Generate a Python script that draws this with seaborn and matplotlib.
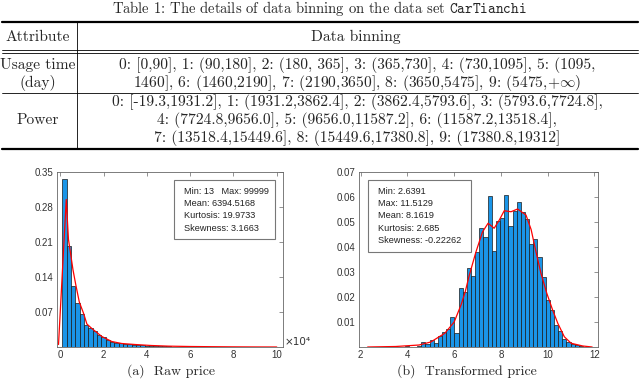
import numpy as np
import matplotlib
matplotlib.use("Agg")
import matplotlib.pyplot as plt
from matplotlib.lines import Line2D
from matplotlib.patches import Rectangle
import pandas as pd
import seaborn as sns

# ---- table content ----
table_caption = r"Table 1: The details of data binning on the data set $\mathtt{CarTianchi}$"
table_header = ["Attribute", "Data binning"]
usage_label = ["Usage time", "(day)"]
usage_bins = ["0: [0,90], 1: (90,180], 2: (180, 365], 3: (365,730], 4: (730,1095], 5: (1095,",
              r"1460], 6: (1460,2190], 7: (2190,3650], 8: (3650,5475], 9: (5475,$+\infty$)"]
power_label = ["Power"]
power_bins = ["0: [-19.3,1931.2], 1: (1931.2,3862.4], 2: (3862.4,5793.6], 3: (5793.6,7724.8],",
              "4: (7724.8,9656.0], 5: (9656.0,11587.2], 6: (11587.2,13518.4],",
              "7: (13518.4,15449.6], 8: (15449.6,17380.8], 9: (17380.8,19312]"]

# ---- raw price histogram (50 bins of 2000, probability) ----
raw_bin_start, raw_bin_end, raw_nbins = 1000, 101000, 50
raw_heights = [0.336, 0.202, 0.123, 0.089, 0.066, 0.045, 0.039, 0.032, 0.025, 0.020,
               0.014, 0.011, 0.009, 0.0085, 0.007, 0.006, 0.005, 0.0042, 0.0036, 0.003,
               0.0025, 0.002, 0.0017, 0.0014, 0.0012, 0.001, 0.0008, 0.0006, 0.0005, 0.0004,
               0.0003, 0.0003, 0.0002, 0.0002, 0.0002, 0.0001, 0.0001, 0.0001, 0.0001, 0.0001,
               0.0001, 0.0001, 0.0, 0.0, 0.0, 0.0, 0.0, 0.0, 0.0, 0.0001]
raw_curve_x = [-800, 2770, 3800, 5900, 7200, 8800, 10800, 12300, 14600, 19200,
               23800, 28400, 34500, 42000, 50000, 60000, 70000, 80000, 90000, 100000]
raw_curve_y = [0.005, 0.295, 0.215, 0.154, 0.124, 0.090, 0.067, 0.046, 0.037, 0.021,
               0.011, 0.007, 0.005, 0.003, 0.0017, 0.001, 0.0006, 0.0003, 0.0001, 0.0]
raw_stats = ["Min: 13   Max: 99999", "Mean: 6394.5168", "Kurtosis: 19.9733", "Skewness: 3.1663"]

# ---- transformed price histogram (50 bins from min to max) ----
tr_min, tr_max, tr_nbins = 2.6391, 11.5129, 50
tr_heights = [0, 0, 0, 0, 0, 0, 0, 0.0003, 0, 0.0002,
              0.0005, 0.002, 0.0012, 0.003, 0.0017, 0.0044, 0.0061, 0.0071, 0.0119, 0.0057,
              0.0235, 0.0222, 0.0318, 0.0285, 0.038, 0.0475, 0.044, 0.0605, 0.0385, 0.0505,
              0.0515, 0.061, 0.0485, 0.0545, 0.058, 0.054, 0.0512, 0.0412, 0.0432, 0.0362,
              0.028, 0.0188, 0.0148, 0.0088, 0.0066, 0.0033, 0.0021, 0.0014, 0.0008, 0.0004]
tr_curve_x = [2.3, 3.5, 4.5, 5.0, 5.6, 6.0, 6.3, 6.47, 6.64, 6.93, 7.21, 7.45, 7.71,
              7.93, 8.14, 8.43, 8.71, 9.07, 9.29, 9.5, 9.71, 9.96, 10.21, 10.43, 10.71,
              11.0, 11.5, 11.9]
tr_curve_y = [0.0, 0.0002, 0.0008, 0.002, 0.0055, 0.010, 0.017, 0.022, 0.0285, 0.038,
              0.046, 0.0495, 0.0475, 0.0508, 0.0545, 0.0541, 0.0552, 0.0528, 0.047, 0.038,
              0.0295, 0.0215, 0.0148, 0.0095, 0.0041, 0.0015, 0.0004, 0.0]
tr_stats = ["Min: 2.6391", "Max: 11.5129", "Mean: 8.1619", "Kurtosis: 2.685", "Skewness: -0.22262"]

captions = ["(a)  Raw price", "(b)  Transformed price"]

BAR_COLOR = "#1a95e8"
SPINE = "#666666"

sns.set_style("white")
plt.rcParams["font.family"] = ["Liberation Sans", "DejaVu Sans"]
plt.rcParams["mathtext.fontset"] = "cm"

W, H = 640, 380
fig = plt.figure(figsize=(6.4, 3.8), dpi=100)


def fx(x):
    return x / W


def fy(y):
    return 1 - y / H


def hline(y, lw, x0=2, x1=638):
    fig.add_artist(Line2D([fx(x0), fx(x1)], [fy(y), fy(y)], transform=fig.transFigure,
                          color="black", lw=lw))


def serif(x, y, s, size=11.2, ha="center"):
    fig.text(fx(x), fy(y), s, ha=ha, va="center", fontsize=size, family="cmr10")


# ---- table ----
serif(319, 9, table_caption, size=10.5)
hline(21.5, 1.6)
serif(38, 37, table_header[0])
serif(356, 37, table_header[1])
hline(50, 0.6)
hline(53, 0.6)
for i, s in enumerate(usage_label):
    serif(38, 65 + 18 * i, s)
for i, s in enumerate(usage_bins):
    serif(357, 65 + 18 * i, s)
hline(92.5, 0.6)
serif(38, 120, power_label[0])
for i, s in enumerate(power_bins):
    serif(357, 102 + 18 * i, s)
hline(149, 1.6)
fig.add_artist(Line2D([fx(77), fx(77)], [fy(22), fy(149)], transform=fig.transFigure,
                      color="black", lw=0.6))


def style_axes(ax):
    for sp in ax.spines.values():
        sp.set_color(SPINE)
        sp.set_linewidth(0.6)
    ax.tick_params(direction="in", length=3, width=0.5, color=SPINE, labelsize=7,
                   labelcolor="#333333", top=True, right=True, pad=2.5)
    ax.set_xlabel("")
    ax.set_ylabel("")


def stats_box(ax, x0, y0, w, h, tx, ty, lines):
    ax.add_patch(Rectangle((x0, y0), w, h, transform=ax.transAxes, facecolor="white",
                           edgecolor="#777777", lw=0.8, zorder=5))
    for i, s in enumerate(lines):
        ax.text(tx, ty - i * 12.4 / 175, s, transform=ax.transAxes, ha="left", va="center",
                fontsize=6.6, color="#222222", zorder=6)


def hist_frame(start, end, nbins, heights):
    edges = np.linspace(start, end, nbins + 1)
    return pd.DataFrame({"x": (edges[:-1] + edges[1:]) / 2, "w": heights})


# ---- left: raw price ----
ax1 = fig.add_axes([fx(57), fy(347), 226 / W, 175 / H])
raw_df = hist_frame(raw_bin_start, raw_bin_end, raw_nbins, raw_heights)
sns.histplot(data=raw_df, x="x", weights="w", bins=raw_nbins,
             binrange=(raw_bin_start, raw_bin_end), ax=ax1, color=BAR_COLOR,
             alpha=1, edgecolor="#1a1a1a", linewidth=0.5)
sns.lineplot(x=raw_curve_x, y=raw_curve_y, ax=ax1, color="red", lw=0.9, sort=False)
ax1.set_xlim(-1500, 102900)
ax1.set_ylim(0, 0.35)
ax1.set_xticks(np.arange(0, 100001, 20000))
ax1.set_xticklabels([str(v) for v in range(0, 11, 2)])
ax1.set_yticks([0.07, 0.14, 0.21, 0.28, 0.35])
ax1.set_yticklabels(["0.07", "0.14", "0.21", "0.28", "0.35"])
style_axes(ax1)
ax1.text(1.008, 0.03, "\u00d710\u2074", transform=ax1.transAxes, ha="left", va="center",
         fontsize=7.5, color="#333333", family=["DejaVu Sans"])
stats_box(ax1, 0.518, 0.617, 0.447, 0.337, 0.562, 0.891, raw_stats)

# ---- right: transformed price ----
ax2 = fig.add_axes([fx(359), fy(347), 239 / W, 175 / H])
tr_df = hist_frame(tr_min, tr_max, tr_nbins, tr_heights)
sns.histplot(data=tr_df, x="x", weights="w", bins=tr_nbins, binrange=(tr_min, tr_max),
             ax=ax2, color=BAR_COLOR, alpha=1, edgecolor="#1a1a1a", linewidth=0.5)
sns.lineplot(x=tr_curve_x, y=tr_curve_y, ax=ax2, color="red", lw=0.9, sort=False)
ax2.set_xlim(1.93, 12.15)
ax2.set_ylim(0, 0.07)
ax2.set_xticks([2, 4, 6, 8, 10, 12])
ax2.set_yticks([0.01, 0.02, 0.03, 0.04, 0.05, 0.06, 0.07])
ax2.set_yticklabels(["0.01", "0.02", "0.03", "0.04", "0.05", "0.06", "0.07"])
style_axes(ax2)
stats_box(ax2, 0.039, 0.545, 0.431, 0.409, 0.081, 0.891, tr_stats)

serif(171, 371, captions[0], size=10)
serif(467, 371, captions[1], size=10)

fig.savefig("out.png", dpi=100)
